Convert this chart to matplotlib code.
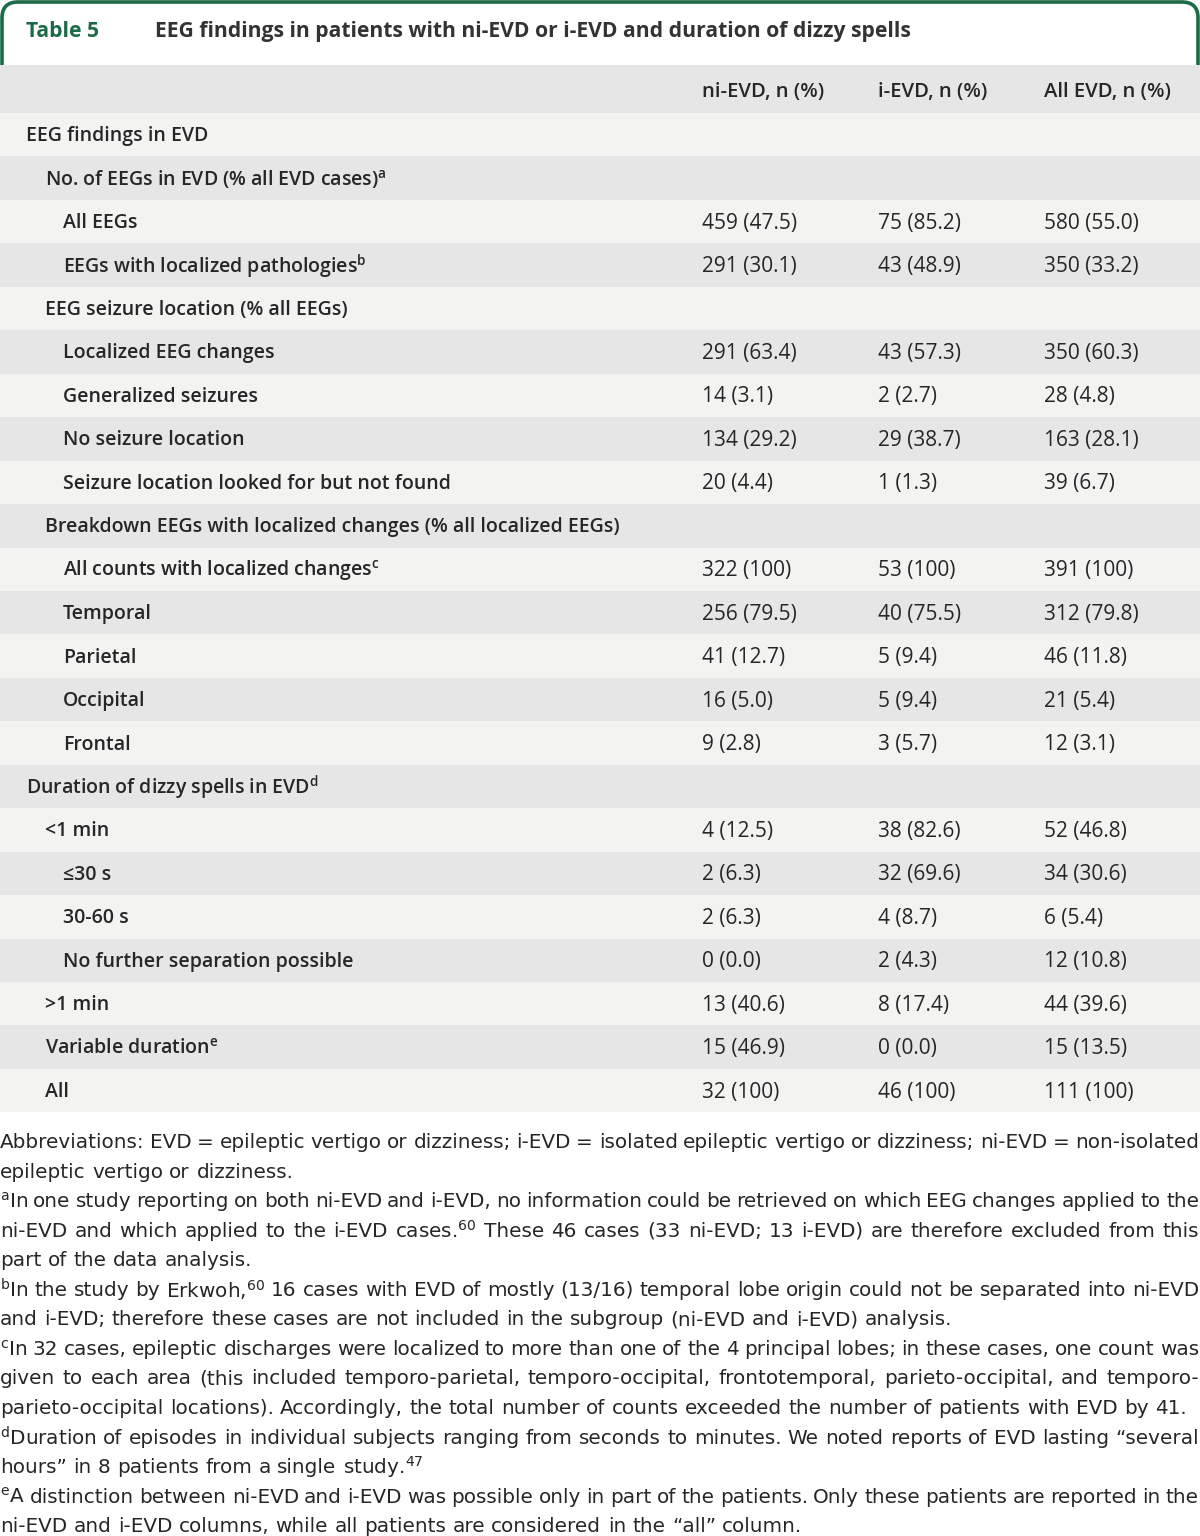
import matplotlib
matplotlib.use("Agg")
import matplotlib.pyplot as plt
from matplotlib.path import Path
from matplotlib.patches import PathPatch, Rectangle

plt.rcParams['font.family'] = ['Open Sans', 'DejaVu Sans']
plt.rcParams['mathtext.fontset'] = 'custom'
plt.rcParams['mathtext.rm'] = 'Open Sans'

title_num = "Table 5"
title_text = "EEG findings in patients with ni-EVD or i-EVD and duration of dizzy spells"
col_heads = ["ni-EVD, n (%)", "i-EVD, n (%)", "All EVD, n (%)"]

row_labels = [
    "EEG findings in EVD",
    r"No. of EEGs in EVD (% all EVD cases)$^\mathregular{a}$",
    "All EEGs",
    r"EEGs with localized pathologies$^\mathregular{b}$",
    "EEG seizure location (% all EEGs)",
    "Localized EEG changes",
    "Generalized seizures",
    "No seizure location",
    "Seizure location looked for but not found",
    "Breakdown EEGs with localized changes (% all localized EEGs)",
    r"All counts with localized changes$^\mathregular{c}$",
    "Temporal",
    "Parietal",
    "Occipital",
    "Frontal",
    r"Duration of dizzy spells in EVD$^\mathregular{d}$",
    "<1 min",
    "≤30 s",
    "30-60 s",
    "No further separation possible",
    ">1 min",
    r"Variable duration$^\mathregular{e}$",
    "All",
]
row_levels = [0, 1, 2, 2, 1, 2, 2, 2, 2, 1, 2, 2, 2, 2, 2, 0, 1, 2, 2, 2, 1, 1, 1]

ni_n = [None, None, 459, 291, None, 291, 14, 134, 20, None, 322, 256, 41, 16, 9, None, 4, 2, 2, 0, 13, 15, 32]
ni_pct = [None, None, 47.5, 30.1, None, 63.4, 3.1, 29.2, 4.4, None, 100, 79.5, 12.7, 5.0, 2.8, None, 12.5, 6.3, 6.3, 0.0, 40.6, 46.9, 100]
i_n = [None, None, 75, 43, None, 43, 2, 29, 1, None, 53, 40, 5, 5, 3, None, 38, 32, 4, 2, 8, 0, 46]
i_pct = [None, None, 85.2, 48.9, None, 57.3, 2.7, 38.7, 1.3, None, 100, 75.5, 9.4, 9.4, 5.7, None, 82.6, 69.6, 8.7, 4.3, 17.4, 0.0, 100]
all_n = [None, None, 580, 350, None, 350, 28, 163, 39, None, 391, 312, 46, 21, 12, None, 52, 34, 6, 12, 44, 15, 111]
all_pct = [None, None, 55.0, 33.2, None, 60.3, 4.8, 28.1, 6.7, None, 100, 79.8, 11.8, 5.4, 3.1, None, 46.8, 30.6, 5.4, 10.8, 39.6, 13.5, 100]

footnotes = [
    ("Abbreviations: EVD = epileptic vertigo or dizziness; i-EVD = isolated epileptic vertigo or dizziness; ni-EVD = non-isolated", True),
    ("epileptic vertigo or dizziness.", False),
    (r"${}^\mathregular{a}$In one study reporting on both ni-EVD and i-EVD, no information could be retrieved on which EEG changes applied to the", True),
    (r"ni-EVD and which applied to the i-EVD cases.$^\mathregular{60}$ These 46 cases (33 ni-EVD; 13 i-EVD) are therefore excluded from this", True),
    ("part of the data analysis.", False),
    (r"${}^\mathregular{b}$In the study by Erkwoh,$^\mathregular{60}$ 16 cases with EVD of mostly (13/16) temporal lobe origin could not be separated into ni-EVD", True),
    ("and i-EVD; therefore these cases are not included in the subgroup (ni-EVD and i-EVD) analysis.", False),
    (r"${}^\mathregular{c}$In 32 cases, epileptic discharges were localized to more than one of the 4 principal lobes; in these cases, one count was", True),
    ("given to each area (this included temporo-parietal, temporo-occipital, frontotemporal, parieto-occipital, and temporo-", True),
    ("parieto-occipital locations). Accordingly, the total number of counts exceeded the number of patients with EVD by 41.", False),
    (r"${}^\mathregular{d}$Duration of episodes in individual subjects ranging from seconds to minutes. We noted reports of EVD lasting “several", True),
    (r"hours” in 8 patients from a single study.$^\mathregular{47}$", False),
    (r"${}^\mathregular{e}$A distinction between ni-EVD and i-EVD was possible only in part of the patients. Only these patients are reported in the", True),
    ("ni-EVD and i-EVD columns, while all patients are considered in the “all” column.", False),
]


def fmt(n, p):
    if n is None:
        return ""
    if p == 100:
        return f"{n} (100)"
    return f"{n} ({p:.1f})"


W, H = 1200, 1536
fig = plt.figure(figsize=(W / 100, H / 100), dpi=100)
ax = fig.add_axes([0, 0, 1, 1])
ax.set_xlim(0, W)
ax.set_ylim(H, 0)
ax.axis('off')

green = "#1b6b47"
txt = "#262626"
light = "#f3f3f2"
dark = "#e6e6e6"

# title box with rounded top corners
r = 16
verts = [(2, 66), (2, 2 + r), (2, 2), (2 + r, 2), (W - 2 - r, 2), (W - 2, 2), (W - 2, 2 + r), (W - 2, 66)]
codes = [Path.MOVETO, Path.LINETO, Path.CURVE3, Path.CURVE3, Path.LINETO, Path.CURVE3, Path.CURVE3, Path.LINETO]
ax.add_patch(PathPatch(Path(verts, codes), fill=False, edgecolor=green, lw=2.6))
ax.text(26, 31.5, title_num, color=green, fontsize=15.2, fontweight='bold', va='center')
ax.text(155, 31.5, title_text, color="#333333", fontsize=15.2, fontweight='bold', va='center')

# header
head_top, head_bot = 65, 113
ax.add_patch(Rectangle((0, head_top), W, head_bot - head_top, color=dark, lw=0))
col_x = [702, 878, 1044]
for x, h in zip(col_x, col_heads):
    ax.text(x, 91.5, h, color=txt, fontsize=14.6, fontweight='semibold', va='center')

row_h = 43.45
indent = [26, 45, 63]
values = [(ni_n, ni_pct), (i_n, i_pct), (all_n, all_pct)]
for k, lab in enumerate(row_labels):
    top = head_bot + k * row_h
    ax.add_patch(Rectangle((0, top), W, row_h, color=light if k % 2 == 0 else dark, lw=0))
    yc = top + row_h / 2 + 1.5
    ax.text(indent[row_levels[k]], yc, lab, color=txt, fontsize=14, fontweight='semibold', va='center')
    for x, (ns, ps) in zip(col_x, values):
        ax.text(x, yc, fmt(ns[k], ps[k]), color=txt, fontsize=15, va='center')

# footnotes, justified to the full width
renderer = fig.canvas.get_renderer()
foot_font = ['DejaVu Sans']


def width(s, size):
    t = ax.text(0, 0, s, fontsize=size, family=foot_font)
    w = t.get_window_extent(renderer).width
    t.remove()
    return w


# size the footnote font so the last line of note c ends where it does in the original
fs = 13 * 1180 / width(footnotes[9][0], 13)
space = width("a a", fs) - width("aa", fs)
y0, dy = 1142.5, 29.55
for j, (line, just) in enumerate(footnotes):
    y = y0 + j * dy
    words = line.split(" ")
    ws = [width(w, fs) for w in words]
    gap = (W - 1 - sum(ws)) / (len(words) - 1) if just else space
    x = 0
    for w, wd in zip(words, ws):
        ax.text(x, y, w, fontsize=fs, color=txt, va='center', family=foot_font)
        x += wd + gap

fig.savefig("out.png", dpi=100)
